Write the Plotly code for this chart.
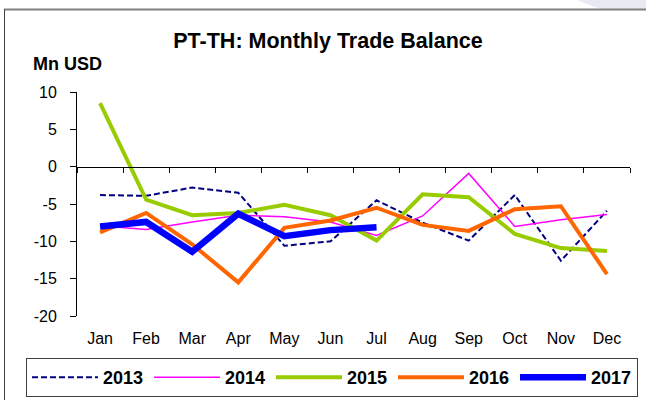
import plotly.graph_objects as go

# Monthly trade balance PT-TH, Mn USD
months = ["Jan", "Feb", "Mar", "Apr", "May", "Jun",
          "Jul", "Aug", "Sep", "Oct", "Nov", "Dec"]
bal_2013 = [-3.8, -3.9, -2.8, -3.5, -10.6, -10.0, -4.5, -7.5, -9.9, -3.8, -12.6, -5.9]
bal_2014 = [-7.9, -8.4, -7.4, -6.5, -6.7, -7.4, -9.2, -6.6, -0.9, -8.0, -7.1, -6.4]
bal_2015 = [8.5, -4.4, -6.5, -6.2, -5.1, -6.5, -9.9, -3.7, -4.1, -9.0, -10.9, -11.3]
bal_2016 = [-8.8, -6.2, -10.4, -15.5, -8.2, -7.2, -5.5, -7.8, -8.6, -5.7, -5.3, -14.4]
bal_2017 = [-8.0, -7.4, -11.4, -6.3, -9.3, -8.5, -8.1]

y_min, y_max, y_step = -20, 10, 5
y_ticks = list(range(y_min, y_max + 1, y_step))
y_labels = [str(v) for v in y_ticks]
x_range = [-0.5, len(months) - 0.5]

W, H = 646, 400
M = dict(l=77, r=16, t=92, b=84, autoexpand=False)

FONT = "Liberation Sans, Arial, sans-serif"

def px_x(p):
    return (p - M["l"]) / (W - M["l"] - M["r"])

def px_y(p):
    return (H - M["b"] - p) / (H - M["t"] - M["b"])

series = [
    ("2013", bal_2013, "#000080", 2, "6px,3px"),
    ("2014", bal_2014, "#ff00ff", 1.5, "solid"),
    ("2015", bal_2015, "#99cc00", 4, "solid"),
    ("2016", bal_2016, "#ff6600", 4, "solid"),
    ("2017", bal_2017, "#0000ff", 6.5, "solid"),
]

fig = go.Figure()
for name, vals, color, width, dash in series:
    fig.add_trace(go.Scatter(
        x=months[:len(vals)], y=vals, name=name, mode="lines",
        line=dict(color=color, width=width, dash=dash),
    ))

# helper trace so the zero-line category axis is rendered
fig.add_trace(go.Scatter(x=months, y=[None] * len(months), xaxis="x2",
                         showlegend=False, hoverinfo="skip", mode="lines"))

fig.update_layout(
    width=W, height=H, margin=M,
    paper_bgcolor="white", plot_bgcolor="white",
    font=dict(family=FONT, color="black"),
    title=dict(text="<b>PT-TH: Monthly Trade Balance</b>",
               font=dict(size=21.5, family=FONT, color="black"),
               x=px_x(328), xanchor="center", xref="paper",
               y=1 - 40 / H, yanchor="middle"),
    xaxis=dict(type="category", categoryorder="array", categoryarray=months,
               range=x_range,
               showline=False, showgrid=False, zeroline=False, ticks="",
               tickfont=dict(size=16, family=FONT, color="black"),
               ticklabelstandoff=11),
    xaxis2=dict(type="category", categoryorder="array", categoryarray=months,
                range=x_range,
                overlaying="x", anchor="free",
                position=(0 - y_min) / (y_max - y_min),
                showline=True, linecolor="black", linewidth=1,
                ticks="outside", tickson="boundaries", ticklen=5,
                tickcolor="black", tickwidth=1,
                showticklabels=False, showgrid=False, zeroline=False),
    yaxis=dict(range=[y_min, y_max], tickvals=y_ticks, ticktext=y_labels,
               showgrid=False, zeroline=False,
               showline=True, linecolor="black", linewidth=1,
               ticks="outside", ticklen=6, tickcolor="black",
               tickfont=dict(size=16, family=FONT, color="black"),
               ticklabelstandoff=10),
    legend=dict(orientation="h", x=px_x(26), xanchor="left",
                y=px_y(377.5), yanchor="middle",
                bgcolor="white", bordercolor="#404040", borderwidth=1,
                font=dict(size=18, family=FONT, color="black", weight="bold"),
                itemwidth=66, entrywidth=41, entrywidthmode="pixels",
                tracegroupgap=0),
    showlegend=True,
)

fig.add_annotation(text="<b>Mn USD</b>", xref="paper", yref="paper",
                   x=px_x(31), y=px_y(64), xanchor="left", yanchor="middle",
                   showarrow=False, font=dict(size=18, family=FONT, color="black"))

# outer frame and corner accent
fig.add_shape(type="path", xref="paper", yref="paper",
              path=f"M {px_x(577)} {px_y(0)} L {px_x(646)} {px_y(0)} L {px_x(646)} {px_y(9)} L {px_x(600)} {px_y(9)} Z",
              fillcolor="#e9e9f4", line=dict(width=0), layer="below")
fig.add_shape(type="line", xref="paper", yref="paper",
              x0=px_x(4), x1=px_x(646), y0=px_y(9.5), y1=px_y(9.5),
              line=dict(color="#808080", width=2))
fig.add_shape(type="line", xref="paper", yref="paper",
              x0=px_x(4.5), x1=px_x(4.5), y0=px_y(9.5), y1=px_y(400),
              line=dict(color="#404040", width=1))

fig.write_html("out.html")
